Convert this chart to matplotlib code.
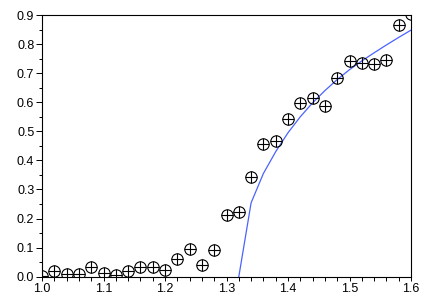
import matplotlib
matplotlib.use("Agg")
import matplotlib.pyplot as plt
from matplotlib.ticker import MultipleLocator, FormatStrFormatter

# Measured data points (circle-plus markers)
x_data = [1.00, 1.02, 1.04, 1.06, 1.08, 1.10, 1.12, 1.14, 1.16, 1.18,
          1.20, 1.22, 1.24, 1.26, 1.28, 1.30, 1.32, 1.34, 1.36, 1.38,
          1.40, 1.42, 1.44, 1.46, 1.48, 1.50, 1.52, 1.54, 1.56, 1.58, 1.60]
y_data = [0.003, 0.021, 0.010, 0.010, 0.034, 0.012, 0.007, 0.021, 0.034, 0.034,
          0.023, 0.061, 0.095, 0.040, 0.092, 0.212, 0.221, 0.342, 0.455, 0.467,
          0.541, 0.598, 0.613, 0.588, 0.684, 0.741, 0.735, 0.731, 0.746, 0.865, 0.905]

# Fitted curve (blue line)
x_fit = [1.32, 1.34, 1.36, 1.38, 1.40, 1.42, 1.44, 1.46, 1.48, 1.50,
         1.52, 1.54, 1.56, 1.58, 1.60]
y_fit = [0.0, 0.254, 0.355, 0.430, 0.495, 0.550, 0.598, 0.640, 0.678, 0.712,
         0.742, 0.770, 0.797, 0.823, 0.848]

plt.rcParams['font.family'] = ['Liberation Sans', 'DejaVu Sans']

fig = plt.figure(figsize=(4.24, 3.07), dpi=100)
ax = fig.add_axes([42/424, 1 - 276.7/307, (411 - 42)/424, (276.7 - 15)/307])

ax.plot(x_fit, y_fit, color='#4a63ff', lw=0.9, zorder=2)
ax.plot(x_data, y_data, ls='none', marker='o', ms=8.2, mfc='none',
        mec='black', mew=0.8, zorder=3)
ax.plot(x_data, y_data, ls='none', marker='+', ms=8.2,
        mec='black', mew=0.8, zorder=3)

ax.set_xlim(1.0, 1.6)
ax.set_ylim(0.0, 0.9)
ax.xaxis.set_major_locator(MultipleLocator(0.1))
ax.xaxis.set_minor_locator(MultipleLocator(0.02))
ax.yaxis.set_major_locator(MultipleLocator(0.1))
ax.yaxis.set_minor_locator(MultipleLocator(0.05))
ax.xaxis.set_major_formatter(FormatStrFormatter('%.1f'))
ax.yaxis.set_major_formatter(FormatStrFormatter('%.1f'))

for s in ax.spines.values():
    s.set_linewidth(0.8)
    s.set_color('black')

ax.tick_params(axis='both', which='major', direction='out', labelsize=9,
               width=0.7, colors='black')
ax.tick_params(axis='x', which='major', length=3, pad=1.5)
ax.tick_params(axis='x', which='minor', length=3, width=0.7, direction='out')
ax.tick_params(axis='y', which='major', length=4, pad=1.5)
ax.tick_params(axis='y', which='minor', length=2.5, width=0.7, direction='out')

fig.savefig('out.png', dpi=100)
